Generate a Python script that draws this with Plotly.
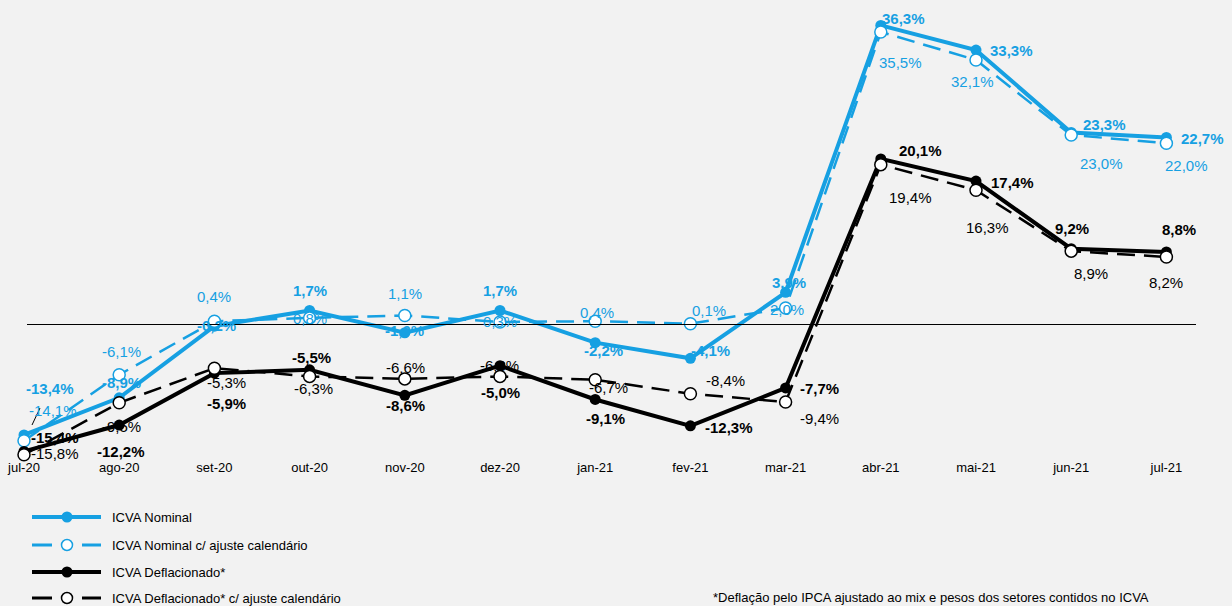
import plotly.graph_objects as go

categories = ["jul-20", "ago-20", "set-20", "out-20", "nov-20", "dez-20", "jan-21",
              "fev-21", "mar-21", "abr-21", "mai-21", "jun-21", "jul-21"]
nominal = [-13.4, -8.9, -0.2, 1.7, -1.0, 1.7, -2.2, -4.1, 3.9, 36.3, 33.3, 23.3, 22.7]
nominal_adj = [-14.1, -6.1, 0.4, 0.8, 1.1, 0.3, 0.4, 0.1, 2.0, 35.5, 32.1, 23.0, 22.0]
deflated = [-15.4, -12.2, -5.9, -5.5, -8.6, -5.0, -9.1, -12.3, -7.7, 20.1, 17.4, 9.2, 8.8]
deflated_adj = [-15.8, -9.5, -5.3, -6.3, -6.6, -6.3, -6.7, -8.4, -9.4, 19.4, 16.3, 8.9, 8.2]

series_names = ["ICVA Nominal", "ICVA Nominal c/ ajuste calendário",
                "ICVA Deflacionado*", "ICVA Deflacionado* c/ ajuste calendário"]
footnote = "*Deflação pelo IPCA ajustado ao mix e pesos dos setores contidos no ICVA"

# label offsets in pixels (dx right, dy down)
off_nom = [(26, -46), (2, -15), (2, -1), (0, -20), (0, -2), (0, -20), (8, 8),
           (20, -8), (3, -10), (23, -7), (35, 0), (33, -8), (36, 1)]
off_nom_adj = [(29, -30), (2, -23), (0, -25), (0, 1), (0, -22), (0, -1), (2, -9),
               (19, -13), (1, 1), (20, 31), (-4, 21), (30, 29), (20, 22)]
off_def = [(31, -14), (2, 26), (12, 30), (2, -12), (1, 10), (0, 27), (10, 19),
           (39, 2), (34, 1), (40, -8), (36, 1), (1, -20), (13, -22)]
off_def_adj = [(31, -1), (2, 24), (12, 14), (4, 12), (1, -11), (-1, -11), (13, 8),
               (35, -13), (34, 17), (30, 33), (11, 37), (20, 22), (0, 26)]

BLUE = "#16a0e2"
BLACK = "#000000"
FONT = "Liberation Sans, Arial, sans-serif"
BG = "#f2f2f2"

W, H = 1232, 606
PLOT_BOTTOM = 458  # px
X0_PX, DX_PX = 24, 95.2
ZERO_PX, PX_PER_UNIT = 324.5, 8.24

fig = go.Figure()

def add_series(vals, color, solid):
    if solid:
        fig.add_trace(go.Scatter(
            x=categories, y=vals, mode="lines+markers", showlegend=False,
            line=dict(color=color, width=4),
            marker=dict(color=color, size=11, line=dict(width=0)),
            cliponaxis=False,
        ))
    else:
        fig.add_trace(go.Scatter(
            x=categories, y=vals, mode="lines+markers", showlegend=False,
            line=dict(color=color, width=2.5, dash="18px,9px"),
            marker=dict(color="white", size=12, line=dict(color=color, width=1.5)),
            cliponaxis=False,
        ))

add_series(nominal, BLUE, True)
add_series(nominal_adj, BLUE, False)
add_series(deflated, BLACK, True)
add_series(deflated_adj, BLACK, False)

def fmt(v):
    return f"{v:.1f}".replace(".", ",") + "%"

def add_labels(vals, offs, color, bold):
    for i, (c, v) in enumerate(zip(categories, vals)):
        dx, dy = offs[i]
        txt = f"<b>{fmt(v)}</b>" if bold else fmt(v)
        fig.add_annotation(x=c, y=v, text=txt, showarrow=False, xshift=dx, yshift=-dy,
                           font=dict(family=FONT, size=15, color=color))

add_labels(nominal, off_nom, BLUE, True)
add_labels(nominal_adj, off_nom_adj, BLUE, False)
add_labels(deflated, off_def, BLACK, True)
add_labels(deflated_adj, off_def_adj, BLACK, False)

# leader line for first nominal adj label
fig.add_shape(type="line", xref="paper", yref="paper",
              x0=32 / W, y0=1 - 425 / H, x1=40 / W, y1=1 - 408 / H,
              line=dict(color="black", width=1))

# zero line
fig.add_shape(type="line", xref="paper", yref="y",
              x0=27 / W, x1=1196 / W, y0=0, y1=0,
              line=dict(color="black", width=1))

# custom legend
leg_y = [517, 545, 572, 598]
leg_colors = [BLUE, BLUE, BLACK, BLACK]
leg_solid = [True, False, True, False]
for name, yy, col, sol in zip(series_names, leg_y, leg_colors, leg_solid):
    yp = 1 - yy / H
    r = 5.5
    if sol:
        fig.add_shape(type="line", xref="paper", yref="paper", x0=32 / W, x1=101 / W,
                      y0=yp, y1=yp, line=dict(color=col, width=4))
        fig.add_shape(type="circle", xref="paper", yref="paper",
                      x0=(67 - r) / W, x1=(67 + r) / W, y0=yp - r / H, y1=yp + r / H,
                      fillcolor=col, line=dict(color=col, width=0))
    else:
        for a, b in [(32, 52), (82, 101)]:
            fig.add_shape(type="line", xref="paper", yref="paper", x0=a / W, x1=b / W,
                          y0=yp, y1=yp, line=dict(color=col, width=3))
        fig.add_shape(type="circle", xref="paper", yref="paper",
                      x0=(67 - r) / W, x1=(67 + r) / W, y0=yp - r / H, y1=yp + r / H,
                      fillcolor="white", line=dict(color=col, width=1.5))
    fig.add_annotation(xref="paper", yref="paper", x=110 / W, y=yp, text=name,
                       showarrow=False, xanchor="left", yanchor="middle",
                       font=dict(family=FONT, size=13, color="black"))

fig.add_annotation(xref="paper", yref="paper", x=711 / W, y=1 - 597 / H, text=footnote,
                   showarrow=False, xanchor="left", yanchor="middle",
                   font=dict(family=FONT, size=13, color="black"))

x_lo = -X0_PX / DX_PX
x_hi = (W - X0_PX) / DX_PX
y_hi = ZERO_PX / PX_PER_UNIT
y_lo = -(PLOT_BOTTOM - ZERO_PX) / PX_PER_UNIT

fig.update_layout(
    width=W, height=H,
    margin=dict(l=0, r=0, t=0, b=0),
    paper_bgcolor=BG, plot_bgcolor=BG,
    xaxis=dict(type="category", range=[x_lo, x_hi], showgrid=False, zeroline=False,
               showline=False, ticks="", tickfont=dict(family=FONT, size=13, color="black")),
    yaxis=dict(range=[y_lo, y_hi], domain=[1 - PLOT_BOTTOM / H, 1], showgrid=False,
               zeroline=False, showline=False, showticklabels=False),
    showlegend=False,
)

fig.write_html("out.html")
